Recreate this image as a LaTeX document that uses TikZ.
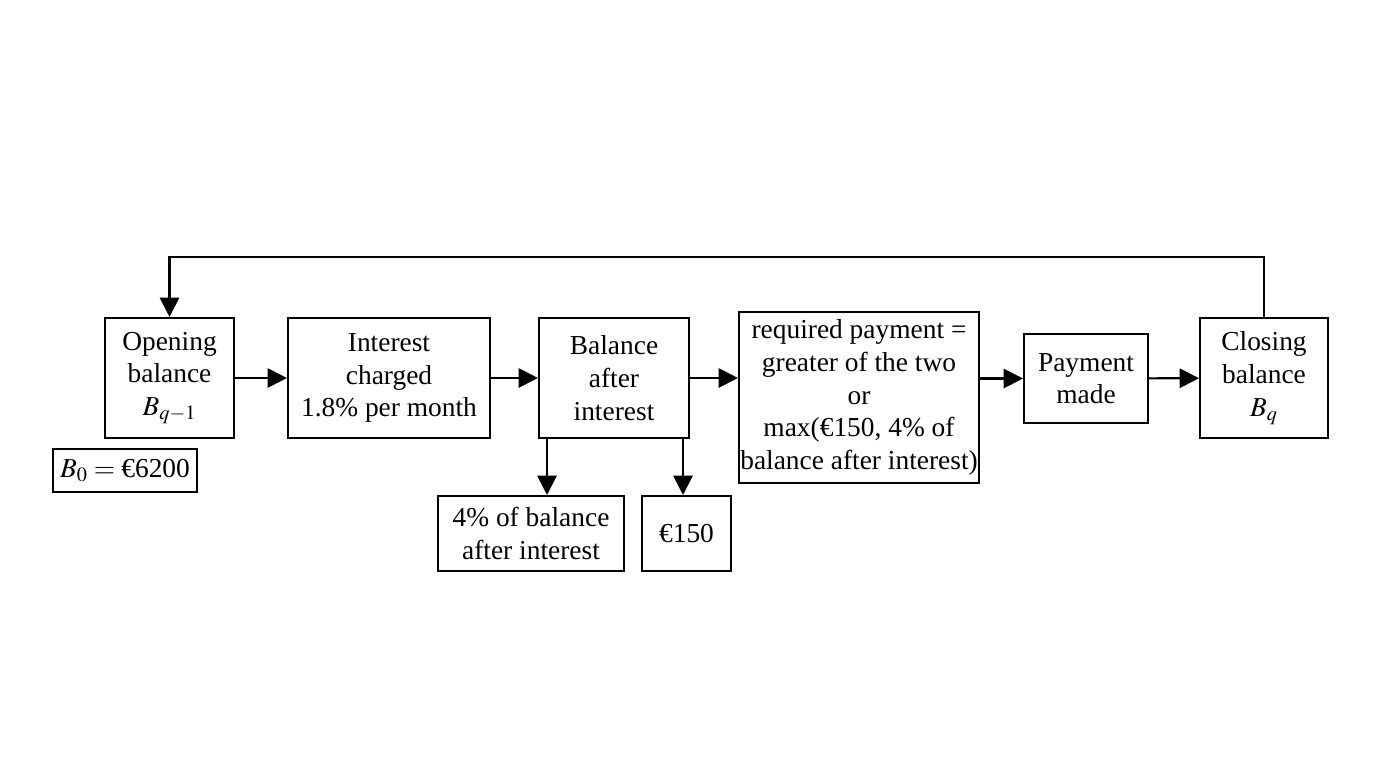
\documentclass[tikz,border=0pt]{standalone}
\usepackage{mathptmx}
\usepackage{fontspec}
\setmainfont{Liberation Serif}
\usetikzlibrary{arrows.meta}

\tikzset{
  blk/.style={draw, line width=1.2pt, align=center, inner sep=0pt,
    font=\fontsize{15.6}{18.6}\selectfont},
  flow/.style={line width=1.2pt, -{Triangle[length=11pt,width=11pt]}}
}

\begin{document}
\begin{tikzpicture}
\useasboundingbox (0,0) rectangle (27.52,-15.36);
%% boxes
\node[blk, minimum width=2.58cm, minimum height=2.4cm] (open) at (3.39,-7.56) {Opening\\balance\\$B_{q-1}$};
\node[blk, minimum width=4.04cm, minimum height=2.4cm] (int) at (7.78,-7.56) {Interest\\charged\\1.8\% per month};
\node[blk, minimum width=3.0cm, minimum height=2.4cm] (bal) at (12.28,-7.56) {Balance\\after\\interest};
\node[blk, minimum width=4.8cm, minimum height=3.42cm] (req) at (17.18,-7.95) {required payment =\\greater of the two\\or\\max(€150, 4\% of\\balance after interest)};
\node[blk, minimum width=2.48cm, minimum height=1.78cm] (pay) at (21.72,-7.57) {Payment\\made};
\node[blk, minimum width=2.56cm, minimum height=2.4cm] (close) at (25.28,-7.56) {Closing\\balance\\$B_q$};
\node[blk, minimum width=2.88cm, minimum height=0.86cm] (init) at (2.5,-9.41) {$B_0 = {}$€6200};
\node[blk, minimum width=3.72cm, minimum height=1.5cm] (pct) at (10.62,-10.67) {4\% of balance\\after interest};
\node[blk, minimum width=1.78cm, minimum height=1.5cm] (fix) at (13.73,-10.67) {€150};
%% connectors
\coordinate (top) at (0,-5.14);
\coordinate (s1) at (10.94,0);
\coordinate (s2) at (13.66,0);
\draw[flow] (open) -- (int);
\draw[flow] (int) -- (bal);
\draw[flow] (bal.east) -- (bal.east -| req.west);
\draw[flow] (pay.west -| req.east) -- (pay.west);
\draw[flow] (pay) -- (close);
\draw[flow] (bal.south -| s1) -- (pct.north -| s1);
\draw[flow] (bal.south -| s2) -- (fix.north -| s2);
\draw[flow] (close.north) |- (top -| open.north) -- (open.north);
\end{tikzpicture}
\end{document}
